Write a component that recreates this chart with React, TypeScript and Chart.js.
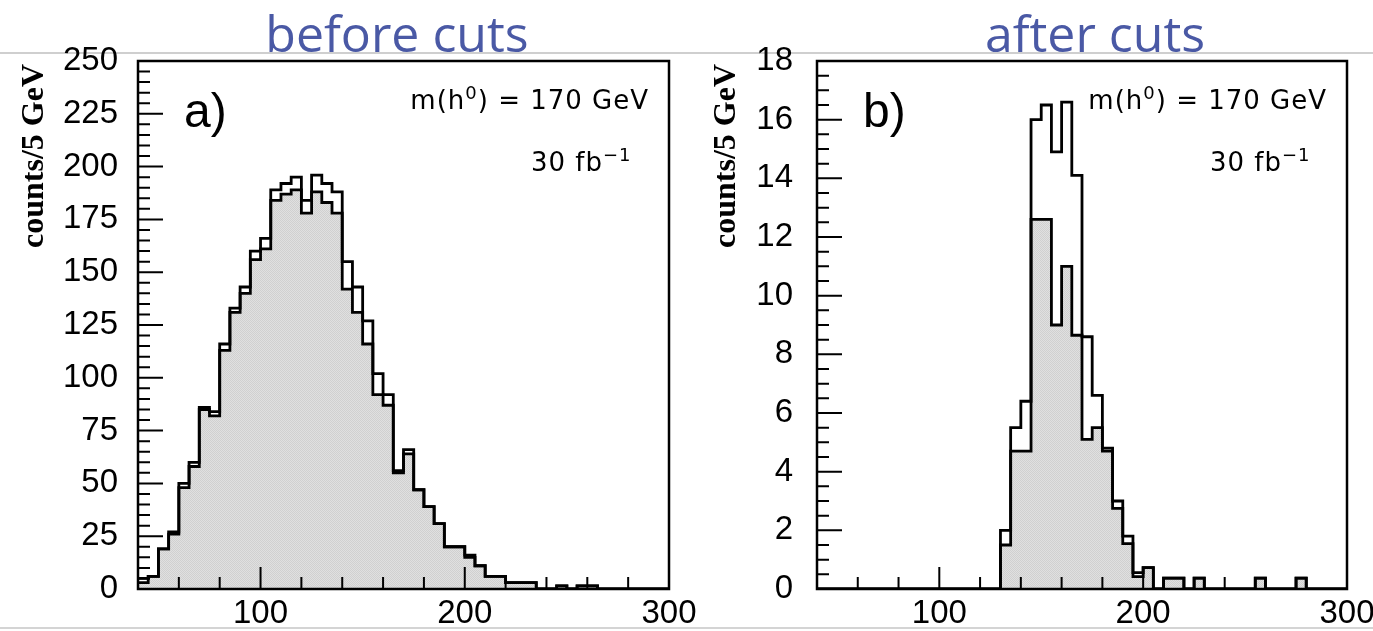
import { useEffect, useRef } from "react";
import { Chart, registerables } from "chart.js";

Chart.register(...registerables);

// Histogram binning: 5 GeV bins, low edges from 40 to 295 GeV
const binLowEdges = [
  40, 45, 50, 55, 60, 65, 70, 75, 80, 85, 90, 95, 100, 105, 110, 115, 120, 125,
  130, 135, 140, 145, 150, 155, 160, 165, 170, 175, 180, 185, 190, 195, 200, 205,
  210, 215, 220, 225, 230, 235, 240, 245, 250, 255, 260, 265, 270, 275, 280, 285,
  290, 295,
];
const massMin = 40;
const massMax = 300;

// a) before cuts: open histogram (total) and shaded histogram
const beforeTotal = [
  5, 6, 19, 27, 50, 60, 86, 84, 116, 133, 143, 160, 166, 189, 192, 195, 184, 196,
  192, 188, 155, 143, 127, 102, 92, 56, 66, 47, 39, 31, 20, 20, 16, 11,
  6, 6, 3, 3, 3, 0, 0, 1.5, 0, 1.5, 1.5, 0, 0, 0, 0, 0,
  0, 0,
];
const beforeShaded = [
  3, 6, 19, 26, 48, 58, 85, 82, 113, 131, 140, 156, 161, 184, 187, 189, 178, 188,
  183, 178, 142, 131, 116, 92, 87, 55, 64, 47, 39, 31, 20, 20, 15, 11,
  6, 6, 3, 3, 3, 0, 0, 1.5, 0, 1.5, 1.5, 0, 0, 0, 0, 0,
  0, 0,
];

// b) after cuts
const afterTotal = [
  0, 0, 0, 0, 0, 0, 0, 0, 0, 0, 0, 0, 0, 0, 0, 0, 0, 0,
  2, 5.5, 6.4, 16, 16.5, 14.9, 16.6, 14.1, 8.6, 6.6, 4.8, 3, 1.8, 0.56, 0.73, 0,
  0.37, 0.37, 0, 0.37, 0, 0, 0, 0, 0, 0.37, 0, 0, 0, 0.37, 0, 0,
  0, 0,
];
const afterShaded = [
  0, 0, 0, 0, 0, 0, 0, 0, 0, 0, 0, 0, 0, 0, 0, 0, 0, 0,
  1.5, 4.7, 4.7, 12.6, 12.6, 9.0, 11.0, 8.65, 5.1, 5.5, 4.7, 2.75, 1.55, 0.42, 0.73, 0,
  0.37, 0.37, 0, 0.37, 0, 0, 0, 0, 0, 0.37, 0, 0, 0, 0.37, 0, 0,
  0, 0,
];

// Axis labelling
const xTickLabels = [100, 200, 300];
const beforeYTickLabels = [0, 25, 50, 75, 100, 125, 150, 175, 200, 225, 250];
const afterYTickLabels = [0, 2, 4, 6, 8, 10, 12, 14, 16, 18];

const panelTitles = ["before cuts", "after cuts"];
const panelTags = ["a)", "b)"];
const yAxisTitle = "counts/5 GeV";

const SANS = '"Liberation Sans", Arial, sans-serif';
const WIDE = '"DejaVu Sans", sans-serif';

type Seg = { text: string; sup?: boolean };

function drawSegments(
  ctx: CanvasRenderingContext2D,
  segs: Seg[],
  x: number,
  y: number,
  size: number,
  align: "left" | "right"
) {
  const supSize = Math.round(size * 0.7);
  ctx.letterSpacing = "1px";
  const widths = segs.map((s) => {
    ctx.font = `${s.sup ? supSize : size}px ${WIDE}`;
    return ctx.measureText(s.text).width;
  });
  const total = widths.reduce((a, b) => a + b, 0);
  let cx = align === "right" ? x - total : x;
  ctx.textAlign = "left";
  ctx.textBaseline = "alphabetic";
  segs.forEach((s, i) => {
    ctx.font = `${s.sup ? supSize : size}px ${WIDE}`;
    ctx.fillText(s.text, cx, s.sup ? y - size * 0.4 : y);
    cx += widths[i];
  });
  ctx.letterSpacing = "0px";
}

const panelDecor = {
  id: "panelDecor",
  afterDatasetsDraw(chart: any, _args: any, opts: any) {
    const { ctx, chartArea: a, scales } = chart;
    const xs = scales.x;
    const ys = scales.y;
    ctx.save();
    ctx.strokeStyle = "#000";
    ctx.lineCap = "butt";

    // inward tick marks, long where a label is shown
    ctx.lineWidth = 2;
    ctx.beginPath();
    xs.ticks.forEach((t: any) => {
      const px = xs.getPixelForValue(t.value);
      const len = t.label !== "" ? 22 : 12;
      ctx.moveTo(px, a.bottom);
      ctx.lineTo(px, a.bottom - len);
    });
    ys.ticks.forEach((t: any) => {
      const py = ys.getPixelForValue(t.value);
      const len = t.label !== "" ? 25 : 12;
      ctx.moveTo(a.left, py);
      ctx.lineTo(a.left + len, py);
    });
    ctx.stroke();

    // frame
    ctx.lineWidth = 2.5;
    ctx.strokeRect(a.left, a.top, a.right - a.left, a.bottom - a.top);

    ctx.fillStyle = "#000";
    // panel tag
    ctx.font = `48px ${SANS}`;
    ctx.textAlign = "left";
    ctx.textBaseline = "alphabetic";
    ctx.fillText(opts.tag, a.left + 46, 127);

    // annotations
    drawSegments(
      ctx,
      [{ text: "m(h" }, { text: "0", sup: true }, { text: ") = 170 GeV" }],
      a.right - 20,
      109,
      26,
      "right"
    );
    drawSegments(
      ctx,
      [{ text: "30 fb" }, { text: "−1", sup: true }],
      a.left + 393,
      171,
      26,
      "left"
    );

    // y-axis title
    ctx.save();
    ctx.translate(opts.yTitleX, 156);
    ctx.rotate(-Math.PI / 2);
    ctx.font = `bold 32px "Liberation Serif", "Times New Roman", serif`;
    ctx.textAlign = "center";
    ctx.textBaseline = "middle";
    ctx.fillText(yAxisTitle, 0, 0);
    ctx.restore();

    // panel heading
    ctx.font = `50px "Open Sans", sans-serif`;
    ctx.fillStyle = "#4a59a5";
    ctx.textAlign = "center";
    ctx.textBaseline = "alphabetic";
    ctx.fillText(opts.title, opts.titleX, 52);

    ctx.restore();
  },
};

function makeShade(): CanvasPattern | string {
  const c = document.createElement("canvas");
  c.width = 2;
  c.height = 2;
  const g = c.getContext("2d");
  if (!g) return "#dadada";
  g.fillStyle = "#e0e0e0";
  g.fillRect(0, 0, 2, 2);
  g.fillStyle = "#d0d0d0";
  g.fillRect(0, 0, 1, 1);
  g.fillRect(1, 1, 1, 1);
  const p = g.createPattern(c, "repeat");
  return p || "#dadada";
}

function steps(values: number[]) {
  const pts = binLowEdges.map((x, i) => ({ x, y: values[i] }));
  pts.push({ x: massMax, y: values[values.length - 1] });
  return pts;
}

type PanelProps = {
  left: number;
  width: number;
  axisWidth: number;
  padRight: number;
  labelPad: number;
  yMax: number;
  yStep: number;
  yLabels: number[];
  total: number[];
  shaded: number[];
  title: string;
  titleX: number;
  tag: string;
  yTitleX: number;
};

const HEIGHT = 631;

function Panel(p: PanelProps) {
  const ref = useRef<HTMLCanvasElement | null>(null);

  useEffect(() => {
    if (!ref.current) return;
    const shade = makeShade();
    const chart = new Chart(ref.current, {
      type: "line",
      data: {
        datasets: [
          {
            label: "total",
            data: steps(p.total),
            stepped: "before",
            borderColor: "#000",
            borderWidth: 2.8,
            pointRadius: 0,
            fill: false,
            order: 1,
          },
          {
            label: "shaded",
            data: steps(p.shaded),
            stepped: "before",
            borderColor: "#000",
            borderWidth: 2.8,
            backgroundColor: shade as any,
            pointRadius: 0,
            fill: "origin",
            order: 2,
          },
        ],
      },
      plugins: [panelDecor],
      options: {
        animation: false,
        responsive: false,
        events: [],
        layout: { padding: { top: 61, right: p.padRight, left: 0, bottom: 0 } },
        plugins: {
          legend: { display: false },
          tooltip: { enabled: false },
          panelDecor: {
            title: p.title,
            titleX: p.titleX,
            tag: p.tag,
            yTitleX: p.yTitleX,
          },
        } as any,
        scales: {
          x: {
            type: "linear",
            min: massMin,
            max: massMax,
            grid: { display: false, drawTicks: false },
            border: { display: false },
            ticks: {
              stepSize: 20,
              autoSkip: false,
              maxRotation: 0,
              padding: 5,
              color: "#000",
              font: { family: SANS, size: 33 },
              callback: (v: any) => (xTickLabels.includes(Number(v)) ? String(v) : ""),
            },
            afterFit: (s: any) => {
              s.height = HEIGHT - 589;
              s.paddingLeft = 0;
              s.paddingRight = 0;
            },
          },
          y: {
            type: "linear",
            min: 0,
            max: p.yMax,
            grid: { display: false, drawTicks: false },
            border: { display: false },
            ticks: {
              stepSize: p.yStep,
              autoSkip: false,
              padding: p.labelPad,
              color: "#000",
              font: { family: SANS, size: 33 },
              callback: (v: any) => (p.yLabels.includes(Number(v)) ? String(v) : ""),
            },
            afterFit: (s: any) => {
              s.width = p.axisWidth;
              s.paddingTop = 0;
              s.paddingBottom = 0;
            },
          },
        },
      },
    });
    return () => chart.destroy();
  }, []);

  return (
    <canvas
      ref={ref}
      width={p.width}
      height={HEIGHT}
      style={{ position: "absolute", left: p.left, top: 0, width: p.width, height: HEIGHT }}
    />
  );
}

export default function App() {
  return (
    <div
      style={{
        position: "fixed",
        left: 0,
        top: 0,
        width: 1373,
        height: HEIGHT,
        background: "#fff",
        overflow: "hidden",
      }}
    >
      <div style={{ position: "absolute", left: 0, top: 52, width: 1373, height: 2, background: "#cfcfcf" }} />
      <div style={{ position: "absolute", left: 0, top: 627, width: 1373, height: 2, background: "#d4d4d4" }} />
      <Panel
        left={0}
        width={700}
        axisWidth={138}
        padRight={31}
        labelPad={20}
        yMax={250}
        yStep={5}
        yLabels={beforeYTickLabels}
        total={beforeTotal}
        shaded={beforeShaded}
        title={panelTitles[0]}
        titleX={397}
        tag={panelTags[0]}
        yTitleX={35}
      />
      <Panel
        left={700}
        width={673}
        axisWidth={117}
        padRight={26}
        labelPad={24}
        yMax={18}
        yStep={0.5}
        yLabels={afterYTickLabels}
        total={afterTotal}
        shaded={afterShaded}
        title={panelTitles[1]}
        titleX={395}
        tag={panelTags[1]}
        yTitleX={27}
      />
    </div>
  );
}
